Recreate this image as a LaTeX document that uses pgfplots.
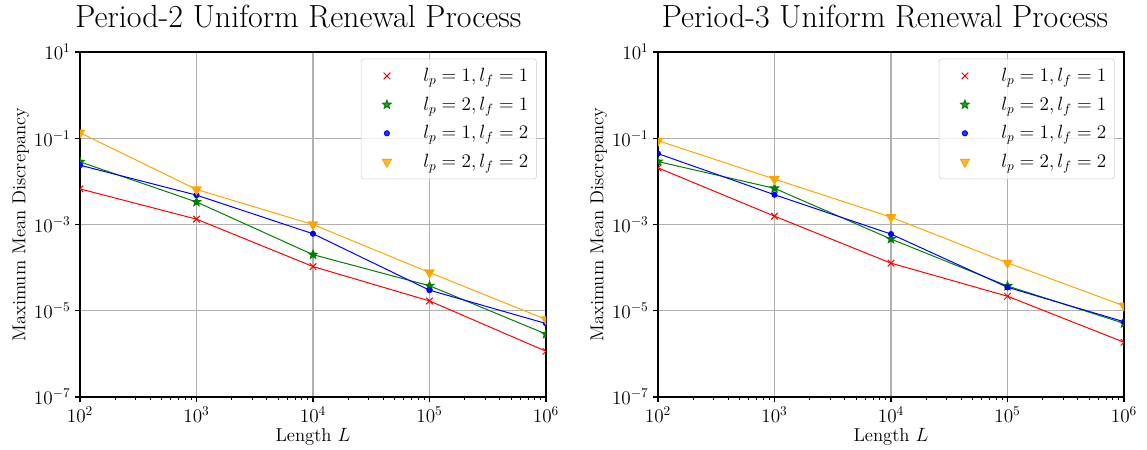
\documentclass[border=0pt]{standalone}
\usepackage{pgfplots}
\pgfplotsset{compat=1.18}

% filled five-pointed star, like matplotlib's '*'
\pgfdeclareplotmark{fstar}{%
  \pgfpathmoveto{\pgfqpointpolar{90}{\pgfplotmarksize}}%
  \pgfpathlineto{\pgfqpointpolar{126}{0.42\pgfplotmarksize}}%
  \pgfpathlineto{\pgfqpointpolar{162}{\pgfplotmarksize}}%
  \pgfpathlineto{\pgfqpointpolar{198}{0.42\pgfplotmarksize}}%
  \pgfpathlineto{\pgfqpointpolar{234}{\pgfplotmarksize}}%
  \pgfpathlineto{\pgfqpointpolar{270}{0.42\pgfplotmarksize}}%
  \pgfpathlineto{\pgfqpointpolar{306}{\pgfplotmarksize}}%
  \pgfpathlineto{\pgfqpointpolar{342}{0.42\pgfplotmarksize}}%
  \pgfpathlineto{\pgfqpointpolar{18}{\pgfplotmarksize}}%
  \pgfpathlineto{\pgfqpointpolar{54}{0.42\pgfplotmarksize}}%
  \pgfpathclose
  \pgfusepathqfillstroke
}

\definecolor{mplorange}{RGB}{255,165,0}
\definecolor{mplgreen}{RGB}{0,128,0}

\pgfplotsset{
  every axis/.append style={
    scale only axis,
    width=349.5pt, height=258.75pt,
    xmin=1e2, xmax=1e6, ymin=1e-7, ymax=1e1,
    xtick={1e2,1e3,1e4,1e5,1e6},
    ytick={1e1,1e-1,1e-3,1e-5,1e-7},
    yminorticks=false,
    tick align=outside, tick pos=left,
    major tick length=3.6pt, minor tick length=2.1pt,
    axis line style={line width=0.8pt},
    grid=major,
    major grid style={color=black!31, line width=0.8pt},
    tick label style={font=\fontsize{14}{17}\selectfont},
    label style={font=\fontsize{14}{17}\selectfont},
    title style={font=\fontsize{24}{28}\selectfont, anchor=base, yshift=12.5pt},
    xlabel={Length $L$},
    ylabel={Maximum Mean Discrepancy},
    xlabel style={at={(axis description cs:0.5,0)}, anchor=base, yshift=-33pt},
    ylabel style={at={(axis description cs:-0.1173,0.5)}, anchor=base},
    clip marker paths=true,
    legend cell align=left,
    legend style={at={(axis description cs:1,1)}, anchor=north east,
      xshift=-7pt, yshift=-5pt,
      font=\fontsize{14}{17}\selectfont,
      draw=black!20, rounded corners=2pt, fill=white, fill opacity=0.8,
      text opacity=1, row sep=6pt, inner xsep=4pt, inner ysep=5pt},
  },
  every major tick/.append style={line width=0.8pt, black},
  every minor tick/.append style={line width=0.6pt, black},
  sred/.style={red, line width=0.75pt, mark=x, mark size=3.5pt},
  sgreen/.style={mplgreen, line width=0.75pt, mark=fstar, mark size=3.3pt},
  sblue/.style={blue, line width=0.75pt, mark=*, mark size=1.9pt},
  sorange/.style={mplorange, line width=0.75pt, mark=triangle*, mark size=3.9pt,
    mark options={rotate=180}},
}

\begin{document}
\begin{tikzpicture}
\useasboundingbox (-60pt,-39.75pt) rectangle (800.25pt,297.75pt);

\begin{loglogaxis}[at={(0pt,0pt)}, anchor=south west,
  title={Period-2 Uniform Renewal Process}, title style={xshift=-11pt},
  legend image code/.code={\path (0pt,0pt) (40pt,0pt);
      \draw[#1, only marks] plot coordinates {(15pt,0pt)};}]
\addplot[sred] coordinates {(1e2,6.7e-3) (1e3,1.33e-3) (1e4,1.06e-4) (1e5,1.69e-5) (1e6,1.15e-6)};
\addlegendentry{$l_p=1,l_f=1$}
\addplot[sgreen] coordinates {(1e2,2.83e-2) (1e3,3.33e-3) (1e4,2.0e-4) (1e5,3.8e-5) (1e6,2.88e-6)};
\addlegendentry{$l_p=2,l_f=1$}
\addplot[sblue] coordinates {(1e2,2.37e-2) (1e3,4.8e-3) (1e4,6.1e-4) (1e5,3.0e-5) (1e6,5.06e-6)};
\addlegendentry{$l_p=1,l_f=2$}
\addplot[sorange] coordinates {(1e2,0.134) (1e3,6.5e-3) (1e4,1.0e-3) (1e5,7.7e-5) (1e6,6.3e-6)};
\addlegendentry{$l_p=2,l_f=2$}
\end{loglogaxis}

\begin{loglogaxis}[at={(433.5pt,0pt)}, anchor=south west,
  title={Period-3 Uniform Renewal Process}, title style={xshift=-4.5pt},
  legend image code/.code={\path (0pt,0pt) (40pt,0pt);
      \draw[#1, only marks] plot coordinates {(15pt,0pt)};}]
\addplot[sred] coordinates {(1e2,2.06e-2) (1e3,1.56e-3) (1e4,1.27e-4) (1e5,2.17e-5) (1e6,1.86e-6)};
\addlegendentry{$l_p=1,l_f=1$}
\addplot[sgreen] coordinates {(1e2,2.88e-2) (1e3,6.9e-3) (1e4,4.6e-4) (1e5,3.75e-5) (1e6,5.1e-6)};
\addlegendentry{$l_p=2,l_f=1$}
\addplot[sblue] coordinates {(1e2,4.4e-2) (1e3,4.9e-3) (1e4,6.0e-4) (1e5,3.5e-5) (1e6,5.56e-6)};
\addlegendentry{$l_p=1,l_f=2$}
\addplot[sorange] coordinates {(1e2,8.8e-2) (1e3,1.13e-2) (1e4,1.48e-3) (1e5,1.29e-4) (1e6,1.30e-5)};
\addlegendentry{$l_p=2,l_f=2$}
\end{loglogaxis}
\end{tikzpicture}
\end{document}
